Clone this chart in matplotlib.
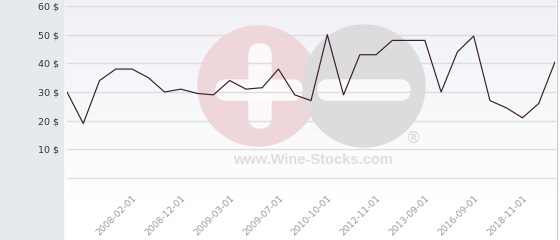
import numpy as np
import matplotlib.pyplot as plt
from matplotlib.patches import Rectangle, Circle, FancyBboxPatch

prices = [30, 19, 34, 38, 38, 35, 30, 31, 29.5, 29, 34, 31, 31.5, 38, 29, 27,
          50, 29, 43, 43, 48, 48, 48, 30, 44, 49.5, 27, 24.5, 21, 26, 40.5]
tick_idx = [4, 7, 10, 13, 16, 19, 22, 25, 28]
tick_labels = ['2008-02-01', '2008-12-01', '2009-03-01', '2009-07-01', '2010-10-01',
               '2012-11-01', '2013-09-01', '2016-09-01', '2018-11-01']
y_ticks = [0, 10, 20, 30, 40, 50, 60]

fig = plt.figure(figsize=(5.6, 2.4), dpi=100)

# background in pixel coords
bg = fig.add_axes([0, 0, 1, 1], zorder=0)
bg.set_xlim(0, 560)
bg.set_ylim(240, 0)
bg.axis('off')
grad = np.linspace(0, 1, 240)[:, None]
top = np.array([0.937, 0.945, 0.961])
bot = np.array([1.0, 1.0, 1.0])
img = top + (bot - top) * np.clip(grad / 0.85, 0, 1)[:, :, None]
img = np.repeat(img, 2, axis=1)
bg.imshow(img, extent=(63, 556, 240, 0), aspect='auto', interpolation='bilinear')
bg.add_patch(Rectangle((0, 0), 63, 240, color='#e6eaee'))
bg.plot([556.5, 556.5], [0, 240], color='#d0d0d0', lw=1)
bg.add_patch(Rectangle((557, 0), 3, 240, color='white'))

# watermark
bg.add_patch(Circle((258, 86), 60, color='#efd6db'))
bg.add_patch(Circle((364, 86), 61, color='#dcdcde'))
bg.add_patch(FancyBboxPatch((249, 44), 22, 84, boxstyle='round,pad=0,rounding_size=11',
                            color='white', alpha=0.85))
bg.add_patch(FancyBboxPatch((216, 80), 86, 20, boxstyle='round,pad=0,rounding_size=10',
                            color='white', alpha=0.85))
bg.add_patch(FancyBboxPatch((318, 80), 92, 20, boxstyle='round,pad=0,rounding_size=10',
                            color='white', alpha=0.85))
bg.text(413, 138, '®', fontsize=11, color='#d6d6d6', ha='center', va='center')
bg.text(313, 160, 'www.Wine-Stocks.com', fontsize=10.5, fontweight='bold',
        family='Liberation Sans', color='#dedede', ha='center', va='center')

ax = fig.add_axes([67 / 560, 62 / 240, 488 / 560, 172 / 240], zorder=1)
ax.patch.set_alpha(0)
x = np.arange(len(prices))
ax.plot(x, prices, color='#3b1f2b', lw=0.85, zorder=3)
ax.set_xlim(0, len(prices) - 1)
ax.set_ylim(0, 60)
ax.set_yticks(y_ticks)
ax.set_yticklabels(['' if v == 0 else f'{v} $' for v in y_ticks], fontsize=6.8, color='#333333')
for v in y_ticks:
    ax.axhline(v, color='#dddddd', lw=1, clip_on=False, zorder=1)
ax.set_xticks(tick_idx)
ax.set_xticklabels(tick_labels, rotation=45, ha='right', va='top', rotation_mode='anchor',
                   fontsize=6.6, color='#999999')
ax.tick_params(axis='y', length=0, pad=6)
ax.tick_params(axis='x', length=0, pad=11)
for s in ax.spines.values():
    s.set_visible(False)

fig.savefig('out.png', dpi=100)
